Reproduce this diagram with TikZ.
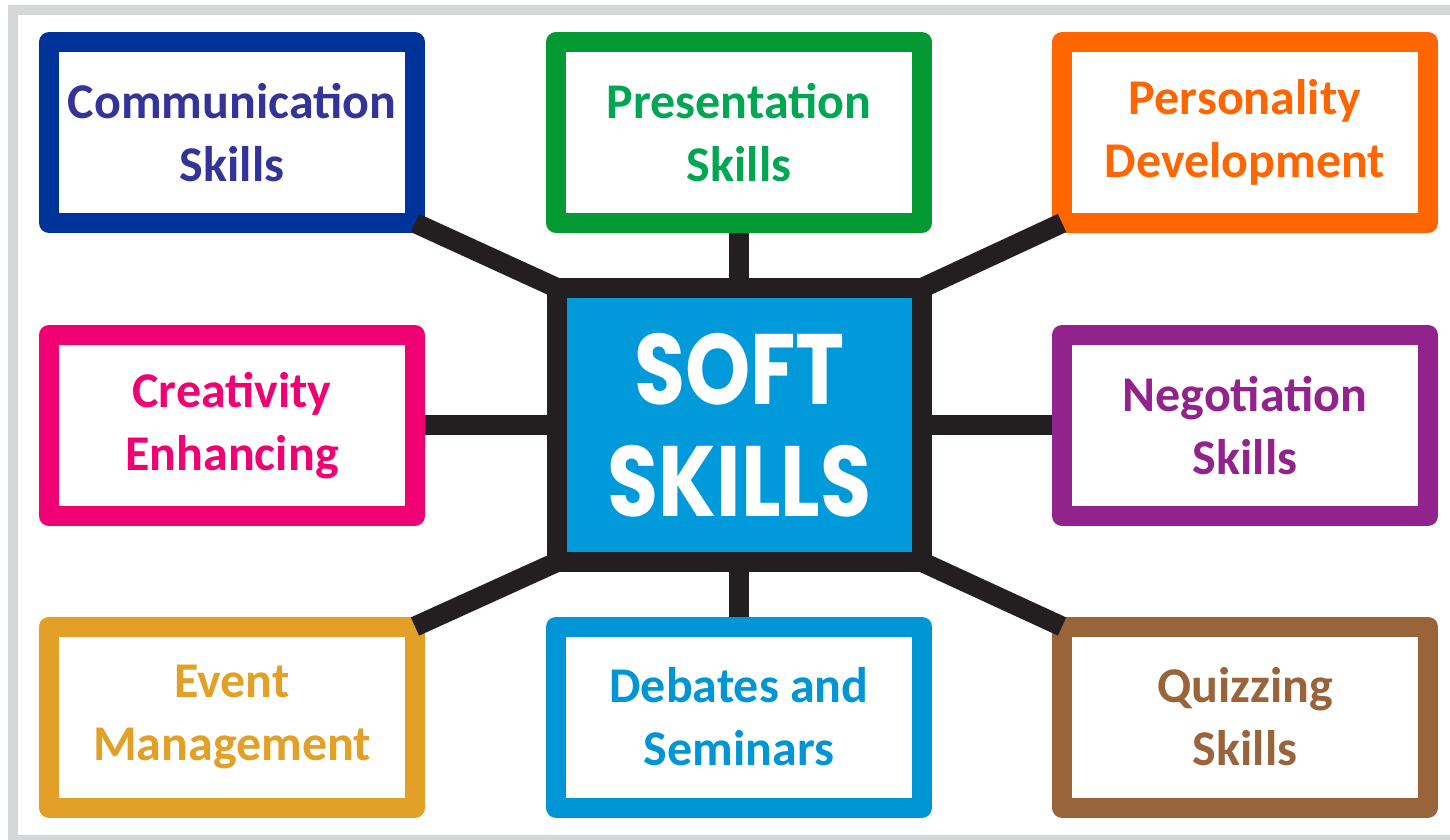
\documentclass[tikz,border=0pt]{standalone}
\usepackage{fontspec}
\setmainfont{Carlito}
\newfontfamily\titlefont{Poppins}[FakeStretch=0.83]
\usetikzlibrary{backgrounds}

\definecolor{framegray}{RGB}{214,215,217}
\definecolor{linkblack}{RGB}{35,31,32}
\definecolor{softblue}{RGB}{0,153,218}
\definecolor{commblue}{RGB}{0,51,153}
\definecolor{commtext}{RGB}{51,51,153}
\definecolor{presgreen}{RGB}{3,153,51}
\definecolor{prestext}{RGB}{0,166,81}
\definecolor{persorange}{RGB}{255,102,0}
\definecolor{creapink}{RGB}{240,0,115}
\definecolor{negopurple}{RGB}{146,34,140}
\definecolor{eventgold}{RGB}{226,160,38}
\definecolor{debblue}{RGB}{0,150,214}
\definecolor{quizbrown}{RGB}{153,100,58}

\begin{document}
\begin{tikzpicture}[x=1pt,y=-1pt,
  skillbox/.style={draw=#1, text=#1, fill=white, line width=20pt, line join=round,
    minimum width=366pt, minimum height=181pt, inner sep=0pt, outer sep=0pt,
    align=center, font=\fontsize{50}{63}\selectfont\bfseries},
  hubbox/.style={draw=linkblack, fill=softblue, line width=20pt, line join=miter,
    minimum width=365pt, minimum height=274pt, inner sep=0pt, outer sep=0pt,
    text=white, align=center, font=\titlefont\bfseries\fontsize{100}{112}\selectfont},
  link/.style={draw=linkblack, line width=20pt}]

\useasboundingbox (0,0) rectangle (1450,839);

% outer frame
\draw[framegray, line width=10pt] (13,9.5) rectangle (1470,839.5);

% hub
\node[hubbox] (soft) at (739.5,425) {SOFT\\SKILLS};

% surrounding skill boxes
\node[skillbox=commblue, text=commtext] (comm) at (232,132.5) {Communication\\Skills};
\node[skillbox=presgreen, text=prestext] (pres) at (739,132.5) {Presentation\\Skills};
\node[skillbox=persorange] (pers) at (1245,132.5) {Personality\\Development};
\node[skillbox=creapink] (crea) at (232,425.5) {Creativity\\Enhancing};
\node[skillbox=negopurple] (nego) at (1245,425.5) {Negotiation\\Skills};
\node[skillbox=eventgold] (event) at (232,717) {Event\\Management};
\node[skillbox=debblue] (deb) at (739,717) {Debates and\\Seminars};
\node[skillbox=quizbrown] (quiz) at (1245,717) {Quizzing\\Skills};

% straight links sit behind the boxes
\begin{scope}[on background layer]
  \draw[link] (pres.south) -- (pres.south |- soft.north);
  \draw[link] (deb.north) -- (deb.north |- soft.south);
  \draw[link] (crea.east) -- (soft.west -| crea.east) -- (soft.west);
  \draw[link] (nego.west) -- (soft.east -| nego.west) -- (soft.east);
\end{scope}

% diagonal links run corner to corner
\draw[link] (comm.south east) -- (soft.north west);
\draw[link] (pers.south west) -- (soft.north east);
\draw[link] (event.north east) -- (soft.south west);
\draw[link] (quiz.north west) -- (soft.south east);
\end{tikzpicture}
\end{document}
